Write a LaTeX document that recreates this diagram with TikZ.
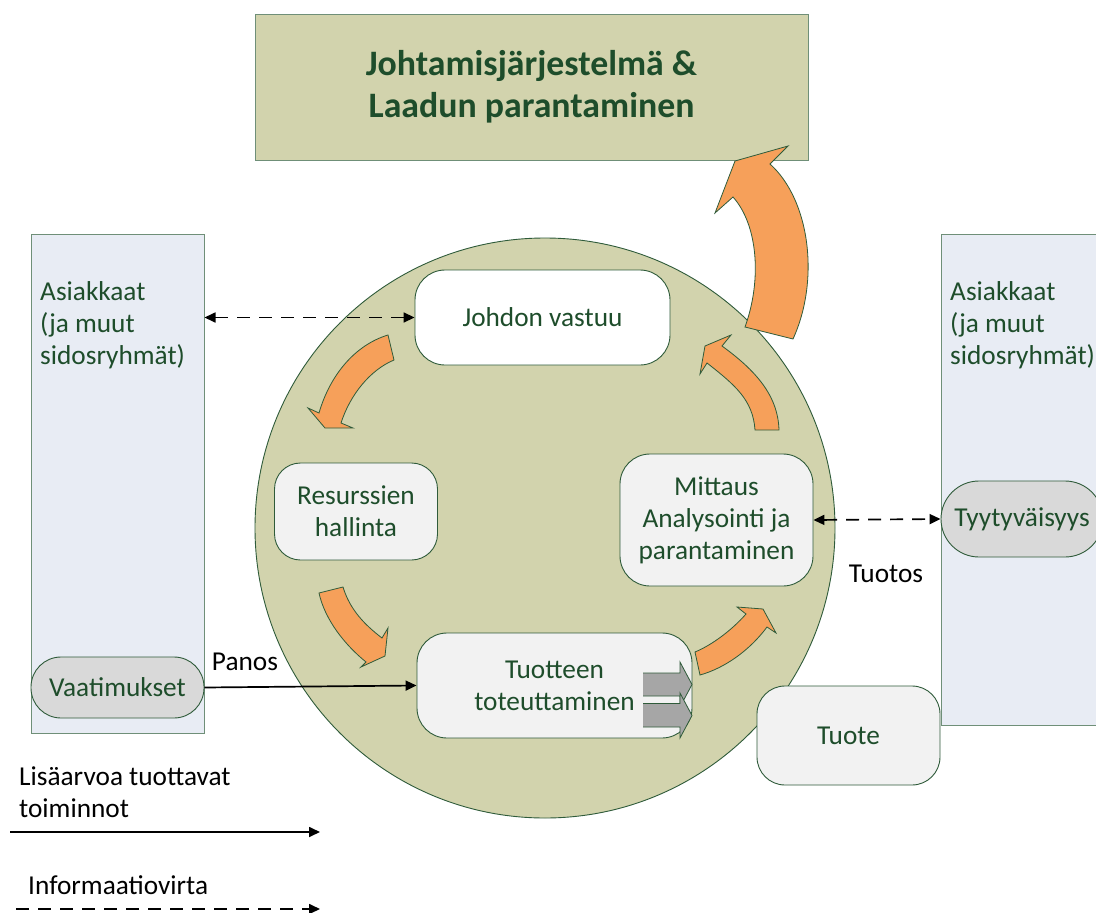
\documentclass[tikz,border=0pt]{standalone}
\usepackage{fontspec}
\setmainfont{Carlito}
\usetikzlibrary{arrows.meta}

\definecolor{olivefill}{HTML}{D2D3AD}
\definecolor{orangefill}{HTML}{F6A05A}
\definecolor{palecol}{HTML}{E8ECF4}
\definecolor{boxgray}{HTML}{F2F2F2}
\definecolor{pillgray}{HTML}{D9D9D9}
\definecolor{edgegreen}{HTML}{2F5B3A}
\definecolor{coledge}{HTML}{6F8F78}
\definecolor{textgreen}{HTML}{1E4D2B}
\definecolor{blockgray}{HTML}{A6A6A6}

\newcommand\bodyfnt{\fontsize{27.3}{32}\selectfont}
\newcommand\titlefnt{\fontsize{35.8}{42.5}\selectfont\bfseries}

\tikzset{
  procbox/.style={draw=edgegreen, line width=0.9pt, fill=boxgray, inner sep=0pt,
    align=center, text=textgreen, font=\bodyfnt},
  colbox/.style={draw=coledge, line width=1pt, fill=palecol, inner sep=0pt},
  pill/.style={draw=edgegreen, line width=0.9pt, fill=pillgray, inner sep=0pt,
    text=textgreen, font=\bodyfnt},
  coltext/.style={align=left, text=textgreen, font=\bodyfnt, inner sep=0pt},
  plain/.style={text=black, font=\bodyfnt, inner sep=0pt, align=left},
  flowarrow/.style={fill=orangefill, draw=edgegreen, line width=0.8pt, line join=miter},
  blockbody/.style={fill=blockgray},
  blockedge/.style={draw=edgegreen, line width=0.8pt},
  valueflow/.style={draw=black, line width=1.7pt, -{Triangle[length=11pt,width=10pt]}},
  infoflow/.style={draw=black, line width=1.7pt, dash pattern=on 13pt off 9pt,
    {Triangle[length=11pt,width=10pt]}-{Triangle[length=11pt,width=10pt]}},
  infolegend/.style={draw=black, line width=1.7pt, dash pattern=on 13pt off 9pt,
    -{Triangle[length=11pt,width=10pt]}}
}

\begin{document}
\begin{tikzpicture}[x=1pt,y=-1pt]
\clip (0,0) rectangle (1096,913);
\fill[white] (0,0) rectangle (1096,913);

% management system box
\node[draw=coledge, line width=1pt, fill=olivefill, minimum width=553pt, minimum height=146pt,
  inner sep=0pt, align=center, text=textgreen, font=\titlefnt] (mgmt) at (531.5,87)
  {Johtamisjärjestelmä \&\\Laadun parantaminen};

% customer columns
\node[colbox, minimum width=173pt, minimum height=499pt] (leftcol) at (117.5,483.5) {};
\node[colbox, minimum width=190pt, minimum height=491pt] (rightcol) at (1036,479.5) {};
\node[coltext, anchor=west] (lefttxt) at (40,325) {Asiakkaat\\(ja muut\\sidosryhmät)};
\node[coltext, anchor=west] (righttxt) at (950,325) {Asiakkaat\\(ja muut\\sidosryhmät)};

\node[pill, minimum width=173pt, minimum height=61pt, rounded corners=30pt] (req) at (117.5,687.5) {Vaatimukset};
\node[pill, minimum width=162pt, minimum height=76pt, rounded corners=38pt] (sat) at (1022,519) {Tyytyväisyys};

% process circle
\node[circle, draw=edgegreen, line width=0.9pt, fill=olivefill, minimum size=580pt, inner sep=0pt] (cycle) at (545,528) {};

% process steps
\node[procbox, fill=white, minimum width=255pt, minimum height=95pt, rounded corners=30pt] (lead) at (542.5,317.5) {Johdon vastuu};
\node[procbox, minimum width=163pt, minimum height=97pt, rounded corners=26pt] (res) at (356,511.5) {Resurssien\\hallinta};
\node[procbox, minimum width=193pt, minimum height=132pt, rounded corners=30pt] (meas) at (716.5,520) {Mittaus\\Analysointi ja\\parantaminen};
\node[procbox, minimum width=275pt, minimum height=105pt, rounded corners=30pt] (prod) at (554.5,685.5) {Tuotteen\\toteuttaminen};
\node[procbox, minimum width=183pt, minimum height=99pt, rounded corners=28pt] (item) at (848.5,735.5) {Tuote};

% output block arrows inside the realisation step
\fill[blockbody] (643,673) -- (680,673) -- (680,662) -- (692,684.5) -- (680,707) -- (680,696) -- (643,696) -- cycle;
\draw[blockedge] (643,673) -- (680,673) -- (680,662) -- (692,684.5) -- (680,707) -- (680,696) -- (643,696);
\fill[blockbody] (643,703.5) -- (680,703.5) -- (680,693) -- (692,715.5) -- (680,738) -- (680,727) -- (643,727) -- cycle;
\draw[blockedge] (643,703.5) -- (680,703.5) -- (680,693) -- (692,715.5) -- (680,738) -- (680,727) -- (643,727);

% cycle arrows
\path[flowarrow] (745,327) .. controls (762,280) and (758,225) .. (733,197) -- (715,213) -- (735,161)
  -- (788,146) -- (770,164) .. controls (810,200) and (820,280) .. (793,339) -- cycle;
\path[flowarrow] (755,430) .. controls (753,400) and (735,385) .. (707,363) -- (700,374) -- (705,346)
  -- (731,335) -- (722,346) .. controls (755,370) and (778,395) .. (779,430) -- cycle;
\path[flowarrow] (388,335) .. controls (355,345) and (330,375) .. (319,413) -- (308,408) -- (325,428)
  -- (353,428) -- (341,423) .. controls (350,395) and (370,370) .. (394,360) -- cycle;
\path[flowarrow] (319,593) .. controls (325,620) and (345,645) .. (366,662) -- (361,667) -- (385,656)
  -- (388,628) -- (382,638) .. controls (365,625) and (350,610) .. (343,587) -- cycle;
\path[flowarrow] (695,652) .. controls (712,645) and (732,630) .. (746,614) -- (737,607) -- (763,609)
  -- (776,633) -- (767,627) .. controls (750,650) and (725,668) .. (700,675) -- cycle;

% flows between the customers and the process
\draw[valueflow] (req.east) -- (prod.west);
\draw[infoflow] (lead.west -| leftcol.east) -- (lead.west);
\draw[infoflow] (meas.east) -- (sat.west);

\node[plain] (input) at (245,662) {Panos};
\node[plain] (output) at (886,574) {Tuotos};

% legend
\node[plain, anchor=west] (leg1) at (19,792) {Lisäarvoa tuottavat\\toiminnot};
\coordinate (leg1a) at (10,832);
\coordinate (leg1b) at (320,832);
\draw[valueflow] (leg1a) -- (leg1b);
\node[plain, anchor=west] (leg2) at (28,885) {Informaatiovirta};
\coordinate (leg2a) at (16,909);
\coordinate (leg2b) at (320,909);
\draw[infolegend] (leg2a) -- (leg2b);
\end{tikzpicture}
\end{document}
